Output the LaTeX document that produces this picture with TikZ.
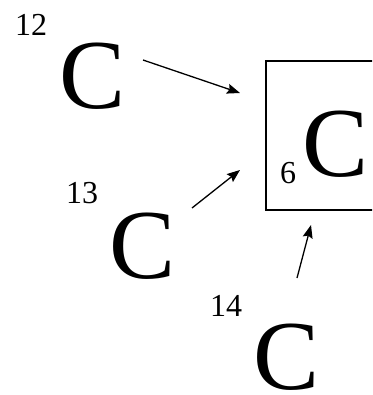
\documentclass[tikz,border=0pt]{standalone}
\usepackage{fontspec}
\setmainfont{Liberation Serif}
\usetikzlibrary{arrows.meta}
\begin{document}
\begin{tikzpicture}[x=1pt,y=-1pt,
  big/.style={inner sep=0pt,font=\fontsize{99}{106}\selectfont},
  iso/.style={inner sep=0pt,font=\fontsize{32}{36}\selectfont},
  arr/.style={line width=1.3pt,-{Stealth[length=13pt,width=10pt,inset=2pt]}},
  frame/.style={draw,line width=1.5pt,inner sep=0pt,minimum width=118pt,minimum height=149pt}]
\useasboundingbox (0,0) rectangle (372,395);
\clip (0,0) rectangle (372,395);
\node[frame] (box) at (325,135.5) {};
\node[big] (c6) at (336,144) {C};
\node[iso] (n6) at (288,173) {6};
\node[big] (c12) at (93,76) {C};
\node[iso] (n12) at (31,25) {12};
\node[big] (c13) at (142.5,246) {C};
\node[iso] (n13) at (82,193.5) {13};
\node[big] (c14) at (286.5,357.5) {C};
\node[iso] (n14) at (226,306) {14};
\coordinate (s1) at (143,60);
\coordinate (e1) at (240,93);
\coordinate (s2) at (192,208);
\coordinate (e2) at (240,170);
\coordinate (s3) at (297,278);
\coordinate (e3) at (311,225);
\draw[arr] (s1) -- (e1);
\draw[arr] (s2) -- (e2);
\draw[arr] (s3) -- (e3);
\end{tikzpicture}
\end{document}
